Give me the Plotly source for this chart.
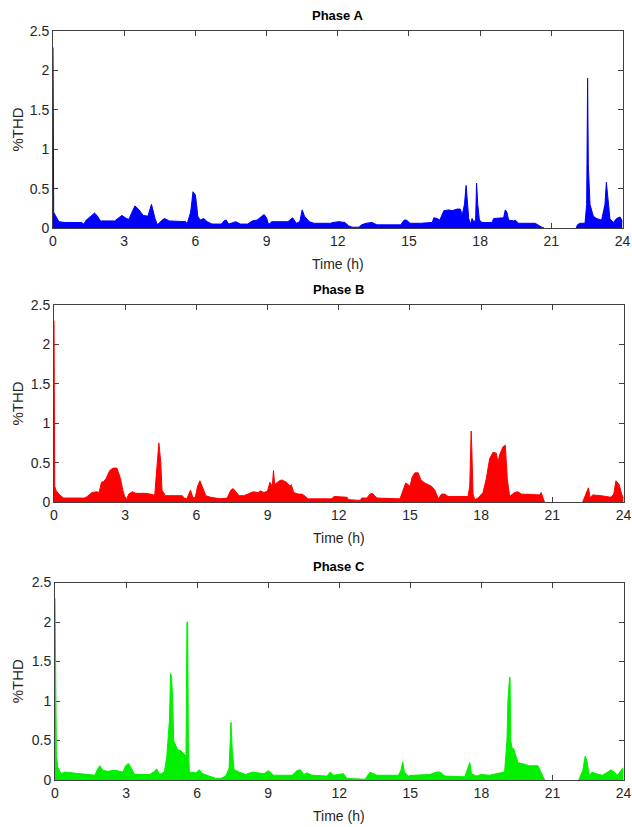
import plotly.graph_objects as go

# ---------------- data (hours, %THD); None = no measurement ----------------
time_a = [0, 0.001, 0.03, 0.1, 0.25, 0.5, 1.2, 1.3, 1.4, 1.6, 1.75, 1.85, 2.0, 2.6, 2.8, 2.9, 3.1, 3.2,
          3.3, 3.45, 3.6, 3.8, 4.0, 4.15, 4.3, 4.4, 4.6, 4.7, 4.9, 5.6, 5.65, 5.8, 5.9, 6.0, 6.05,
          6.1, 6.2, 6.35, 6.5, 6.7, 7.1, 7.2, 7.3, 7.4, 7.6, 7.7, 7.9, 8.2, 8.4, 8.6, 8.8, 8.9, 9.0,
          9.08, 9.12, 9.16, 9.2, 9.9, 10.1, 10.25, 10.4, 10.5, 10.6, 10.8, 11.0, 11.7, 11.8, 12.05,
          12.3, 12.45, 12.6, 12.9, 13.0, 13.2, 13.45, 13.65, 14.65, 14.8, 14.9, 15.05, 15.5, 15.98,
          16.05, 16.2, 16.3, 16.47, 16.68, 16.82, 17.03, 17.17, 17.24, 17.34, 17.41, 17.45, 17.52,
          17.6, 17.66, 17.73, 17.81, 17.85, 17.9, 17.97, 18.08, 18.5, 18.57, 18.99, 19.06, 19.13,
          19.2, 19.41, 19.48, 19.62, 20.32, 20.6, 20.7, 21.4, 22.05, 22.1, 22.2, 22.42, 22.49, 22.53,
          22.56, 22.6, 22.63, 22.77, 22.91, 23.12, 23.26, 23.32, 23.36, 23.4, 23.47, 23.62, 23.75,
          23.9, 24.0]
thd_a = [2.29, 2.29, 0.2, 0.16, 0.08, 0.07, 0.07, 0.05, 0.1, 0.15, 0.19, 0.16, 0.09, 0.09, 0.13, 0.16,
         0.12, 0.11, 0.18, 0.28, 0.24, 0.16, 0.15, 0.3, 0.12, 0.04, 0.1, 0.12, 0.09, 0.08, 0.05, 0.2,
         0.46, 0.42, 0.3, 0.15, 0.1, 0.12, 0.08, 0.05, 0.05, 0.09, 0.1, 0.05, 0.07, 0.08, 0.05, 0.05,
         0.09, 0.1, 0.15, 0.17, 0.13, 0.05, None, None, 0.08, 0.08, 0.13, 0.06, 0.08, 0.23, 0.15, 0.08,
         0.06, 0.06, 0.07, 0.08, 0.07, 0.03, 0.01, 0.01, 0.04, 0.06, 0.07, 0.04, 0.04, 0.1, 0.1, 0.06,
         0.06, 0.07, 0.13, 0.12, 0.1, 0.22, 0.23, 0.22, 0.24, 0.24, 0.16, 0.3, 0.54, 0.35, 0.12, 0.05,
         0.12, 0.08, 0.1, 0.57, 0.3, 0.1, 0.07, 0.07, 0.12, 0.13, 0.23, 0.2, 0.1, 0.09, 0.1, 0.06, 0.06,
         0.01, 0.0, None, 0.0, 0.04, 0.06, 0.06, 0.3, 1.9, 0.8, 0.35, 0.3, 0.15, 0.12, 0.1, 0.3, 0.58,
         0.45, 0.35, 0.12, 0.07, 0.12, 0.14, 0.08]

time_b = [0, 0.001, 0.03, 0.08, 0.2, 0.4, 1.3, 1.4, 1.6, 1.8, 1.9, 2.0, 2.1, 2.2, 2.35, 2.5, 2.65, 2.8,
          2.9, 3.0, 3.05, 3.15, 3.3, 3.45, 3.9, 4.2, 4.25, 4.3, 4.35, 4.42, 4.5, 4.55, 4.7, 5.4, 5.5,
          5.6, 5.75, 5.85, 5.95, 6.05, 6.15, 6.25, 6.4, 6.6, 7.0, 7.3, 7.45, 7.55, 7.7, 7.8, 8.0, 8.2,
          8.4, 8.6, 8.7, 8.85, 9.0, 9.1, 9.2, 9.25, 9.3, 9.5, 9.6, 9.8, 9.95, 10.0, 10.1, 10.3, 10.45,
          10.6, 10.7, 11.7, 11.8, 12.35, 12.41, 12.9, 12.97, 13.18, 13.32, 13.42, 13.6, 14.58, 14.72,
          14.82, 14.93, 15.0, 15.1, 15.21, 15.35, 15.46, 15.63, 15.91, 16.05, 16.2, 16.33, 16.47,
          16.61, 17.45, 17.52, 17.55, 17.58, 17.61, 17.66, 17.73, 17.87, 18.08, 18.22, 18.36, 18.5,
          18.64, 18.71, 18.78, 18.92, 19.02, 19.1, 19.2, 19.41, 19.55, 19.69, 20.46, 20.53, 20.67,
          21.5, 22.28, 22.42, 22.52, 22.6, 22.7, 23.05, 23.47, 23.59, 23.68, 23.82, 23.92, 24.0]
thd_b = [2.3, 2.3, 0.2, 0.15, 0.1, 0.05, 0.05, 0.07, 0.12, 0.13, 0.12, 0.25, 0.26, 0.3, 0.4, 0.43, 0.43,
         0.3, 0.15, 0.05, 0.03, 0.1, 0.13, 0.11, 0.11, 0.09, 0.1, 0.3, 0.5, 0.75, 0.5, 0.15, 0.08,
         0.08, 0.05, 0.04, 0.15, 0.06, 0.05, 0.2, 0.27, 0.2, 0.08, 0.06, 0.04, 0.05, 0.15, 0.17, 0.12,
         0.08, 0.08, 0.11, 0.13, 0.12, 0.14, 0.12, 0.14, 0.25, 0.2, 0.4, 0.22, 0.27, 0.28, 0.25, 0.2,
         0.22, 0.12, 0.1, 0.1, 0.07, 0.04, 0.04, 0.07, 0.06, 0.03, 0.02, 0.05, 0.05, 0.1, 0.11, 0.05,
         0.04, 0.15, 0.24, 0.22, 0.2, 0.32, 0.37, 0.37, 0.28, 0.24, 0.2, 0.15, 0.04, 0.1, 0.1, 0.07,
         0.07, 0.2, 0.9, 0.9, 0.65, 0.1, 0.03, 0.05, 0.12, 0.3, 0.55, 0.63, 0.62, 0.5, 0.6, 0.7, 0.72,
         0.3, 0.07, 0.12, 0.13, 0.1, 0.09, 0.12, 0.0, None, 0.0, 0.1, 0.18, 0.05, 0.09, 0.08, 0.06, 0.1,
         0.27, 0.22, 0.1, 0.05]

time_c = [0, 0.001, 0.03, 0.06, 0.12, 0.25, 0.42, 1.2, 1.68, 1.82, 1.89, 2.03, 2.24, 2.45, 2.6, 2.73,
          2.87, 2.98, 3.1, 3.22, 3.36, 3.99, 4.16, 4.3, 4.41, 4.62, 4.72, 4.83, 4.88, 4.92, 4.97, 5.01,
          5.08, 5.18, 5.32, 5.46, 5.53, 5.57, 5.6, 5.63, 5.67, 5.95, 6.09, 6.23, 6.51, 6.79, 7.0, 7.21,
          7.35, 7.4, 7.43, 7.48, 7.56, 7.77, 8.05, 8.33, 8.54, 8.82, 9.03, 9.07, 9.12, 9.24, 10.01,
          10.22, 10.36, 10.5, 10.64, 10.85, 11.48, 11.62, 11.76, 12.18, 12.32, 13.09, 13.3, 13.44,
          13.58, 14.5, 14.6, 14.68, 14.75, 14.92, 15.13, 15.83, 16.1, 16.25, 16.46, 17.3, 17.44, 17.51,
          17.58, 17.79, 18.0, 18.35, 18.63, 18.98, 19.08, 19.12, 19.19, 19.21, 19.24, 19.3, 19.36,
          19.45, 19.54, 19.82, 20.03, 20.39, 20.53, 20.67, 21.4, 22.11, 22.28, 22.38, 22.45, 22.56,
          22.67, 22.84, 23.12, 23.33, 23.47, 23.61, 23.75, 23.96, 24.0]
thd_c = [2.3, 2.3, 0.5, 0.3, 0.16, 0.08, 0.1, 0.08, 0.06, 0.15, 0.18, 0.12, 0.11, 0.12, 0.12, 0.11,
         0.1, 0.18, 0.21, 0.15, 0.07, 0.07, 0.1, 0.14, 0.07, 0.1, 0.3, 0.75, 1.35, 1.3, 1.0, 0.5, 0.45,
         0.38, 0.37, 0.33, 0.3, 2.0, 2.0, 0.5, 0.1, 0.09, 0.13, 0.08, 0.05, 0.02, 0.02, 0.05, 0.15,
         0.73, 0.73, 0.4, 0.13, 0.1, 0.07, 0.1, 0.09, 0.08, 0.12, None, None, 0.06, 0.06, 0.12, 0.13,
         0.07, 0.09, 0.06, 0.05, 0.1, 0.06, 0.08, 0.02, 0.01, 0.1, 0.08, 0.06, 0.06, 0.12, 0.23, 0.1,
         0.05, 0.06, 0.07, 0.1, 0.1, 0.05, 0.04, 0.15, 0.22, 0.08, 0.05, 0.07, 0.06, 0.08, 0.1, 0.5,
         1.0, 1.3, 1.3, 0.5, 0.4, 0.4, 0.3, 0.22, 0.2, 0.18, 0.18, 0.1, 0.0, None, 0.0, 0.12, 0.3, 0.25,
         0.05, 0.1, 0.08, 0.06, 0.1, 0.13, 0.1, 0.06, 0.15, 0.15]

phase_titles = ["Phase A", "Phase B", "Phase C"]
x_ticks = [0, 3, 6, 9, 12, 15, 18, 21, 24]
y_ticks = [0, 0.5, 1, 1.5, 2, 2.5]
y_tick_text = ["0", "0.5", "1", "1.5", "2", "2.5"]

# ---------------- layout in pixels ----------------
W, H = 632, 827
# (left, right, top, bottom) of each plot box in pixels
boxes = [(53, 622.5, 31, 228), (54, 623.5, 305, 502), (55, 623.5, 582.5, 780)]
colors = ["#0000FF", "#FF0000", "#00F000"]
series = [(time_a, thd_a), (time_b, thd_b), (time_c, thd_c)]

FONT = "Liberation Sans, Arial, sans-serif"
TXT = "#262626"
AX = "#404040"

fig = go.Figure()
annotations = []
for i, ((l, r, t, b), col, (tx, ty), title) in enumerate(zip(boxes, colors, series, phase_titles)):
    n = "" if i == 0 else str(i + 1)
    fig.add_trace(go.Scatter(
        x=tx, y=ty, mode="lines", fill="tozeroy", fillcolor=col, connectgaps=False,
        line=dict(color=col, width=1), xaxis="x" + n, yaxis="y" + n,
        hoverinfo="skip", showlegend=False))
    xd = [l / W, r / W]
    yd = [1 - b / H, 1 - t / H]
    common = dict(showgrid=False, zeroline=False, showline=True, linecolor=AX, linewidth=1,
                  mirror="ticks", ticks="inside", ticklen=5, tickwidth=1, tickcolor=AX,
                  automargin=False,
                  tickfont=dict(family=FONT, size=14, color=TXT), layer="below traces")
    fig.update_layout(**{
        "xaxis" + n: dict(domain=xd, range=[0, 24], tickvals=x_ticks, anchor="y" + n, **common),
        "yaxis" + n: dict(domain=yd, range=[0, 2.5], tickvals=y_ticks, ticktext=y_tick_text,
                          anchor="x" + n, **common),
    })
    xc = (l + r) / 2 / W
    annotations.append(dict(text="<b>" + title + "</b>", x=xc, y=1 - (t - 16) / H, xref="paper",
                            yref="paper", showarrow=False, xanchor="center", yanchor="middle",
                            font=dict(family=FONT, size=13, color="#000000")))
    annotations.append(dict(text="Time (h)", x=xc, y=1 - (b + 36) / H, xref="paper",
                            yref="paper", showarrow=False, xanchor="center", yanchor="middle",
                            font=dict(family=FONT, size=14, color=TXT)))
    annotations.append(dict(text="%THD", x=17 / W, y=1 - (t + b) / 2 / H, xref="paper",
                            yref="paper", showarrow=False, xanchor="center", yanchor="middle",
                            textangle=-90, font=dict(family=FONT, size=15, color=TXT)))

fig.update_layout(width=W, height=H, margin=dict(l=0, r=0, t=0, b=0, autoexpand=False),
                  paper_bgcolor="white", plot_bgcolor="white",
                  annotations=annotations, hovermode=False)
fig.write_html("out.html", config={"displayModeBar": False},
               post_script="document.body.style.margin='0';document.body.style.overflow='hidden';")
